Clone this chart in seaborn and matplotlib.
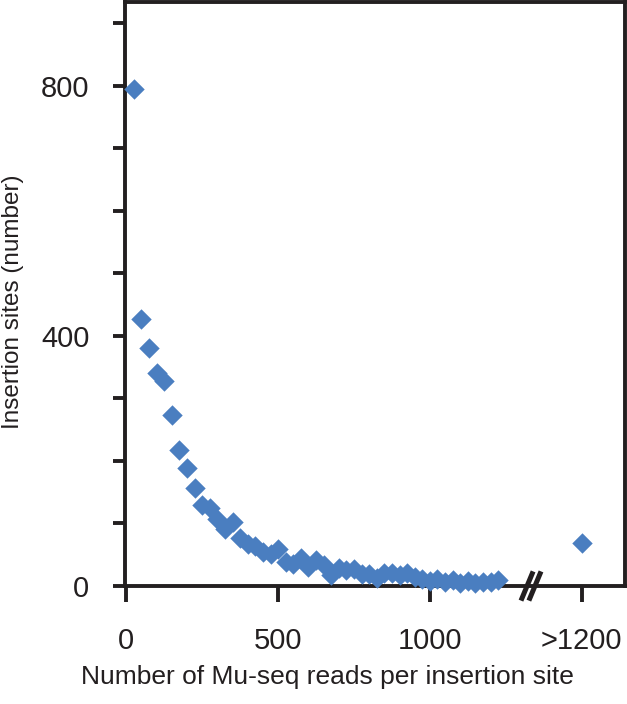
import numpy as np
import pandas as pd
import matplotlib
matplotlib.use("Agg")
import matplotlib.pyplot as plt
import seaborn as sns

sns.set_theme(style="white")
plt.rcParams['font.family'] = ['Liberation Sans', 'DejaVu Sans']
plt.rcParams['text.color'] = '#231f20'
plt.rcParams['axes.labelcolor'] = '#231f20'
plt.rcParams['xtick.labelcolor'] = '#231f20'
plt.rcParams['ytick.labelcolor'] = '#231f20'

# reads per insertion site (bin upper edge) and number of insertion sites
reads = [25, 50, 75, 100, 125, 150, 175, 200, 225, 250,
         275, 300, 325, 350, 375, 400, 425, 450, 475, 500,
         525, 550, 575, 600, 625, 650, 675, 700, 725, 750,
         775, 800, 825, 850, 875, 900, 925, 950, 975, 1000,
         1025, 1050, 1075, 1100, 1125, 1150, 1175, 1200, 1225]
sites = [795, 427, 381, 341, 328, 274, 217, 189, 156, 129,
         124, 107, 91, 102, 76, 67, 64, 55, 51, 59,
         39, 35, 45, 30, 42, 34, 18, 29, 25, 27,
         19, 19, 13, 21, 20, 18, 20, 14, 12, 8,
         11, 6, 9, 5, 8, 5, 7, 6, 9]

# sites with more than 1200 reads, drawn after the axis break
over_pos = 1500
over_sites = 69

x_ticks = [0, 500, 1000, 1500]
x_labels = ['0', '500', '1000', '>1200']
y_ticks = [0, 100, 200, 300, 400, 500, 600, 700, 800, 900]
y_labels = ['0', '', '', '', '400', '', '', '', '800', '']

df = pd.DataFrame({'reads': reads + [over_pos], 'sites': sites + [over_sites]})

fig = plt.figure(figsize=(6.27, 7.04), dpi=100)
ax = fig.add_axes([0.2, 0.1676, 0.797, 0.83])

color = '#4A7EC0'
sns.scatterplot(data=df, x='reads', y='sites', marker='D', s=108, color=color,
                linewidth=0, ax=ax, clip_on=False, zorder=3)

ax.set_xlim(-3, 1643)
ax.set_ylim(0, 934)
ax.set_xticks(x_ticks)
ax.set_xticklabels(x_labels)
ax.set_yticks(y_ticks)
ax.set_yticklabels(y_labels)

for side in ['left', 'right', 'top', 'bottom']:
    ax.spines[side].set_linewidth(2.8)
    ax.spines[side].set_color('#231f20')

ax.tick_params(axis='y', direction='out', length=9, width=2.8, color='#231f20',
               pad=17, labelsize=21, left=True)
ax.tick_params(axis='x', direction='out', length=11.5, width=2.8, color='#231f20',
               pad=18, labelsize=21, bottom=True)

ax.set_xlabel('Number of Mu-seq reads per insertion site', fontsize=19)
ax.set_ylabel('Insertion sites (number)', fontsize=17.5)
ax.xaxis.set_label_coords(0.405, -0.135)
ax.yaxis.set_label_coords(-0.203, 0.486)

# axis break mark
for off in (-13, 13):
    ax.plot([1333 + off - 20, 1333 + off + 20], [-0.025, 0.025],
            transform=ax.get_xaxis_transform(), color='#231f20', lw=3.6,
            clip_on=False, solid_capstyle='butt', zorder=4)

fig.savefig('out.png', dpi=100)
